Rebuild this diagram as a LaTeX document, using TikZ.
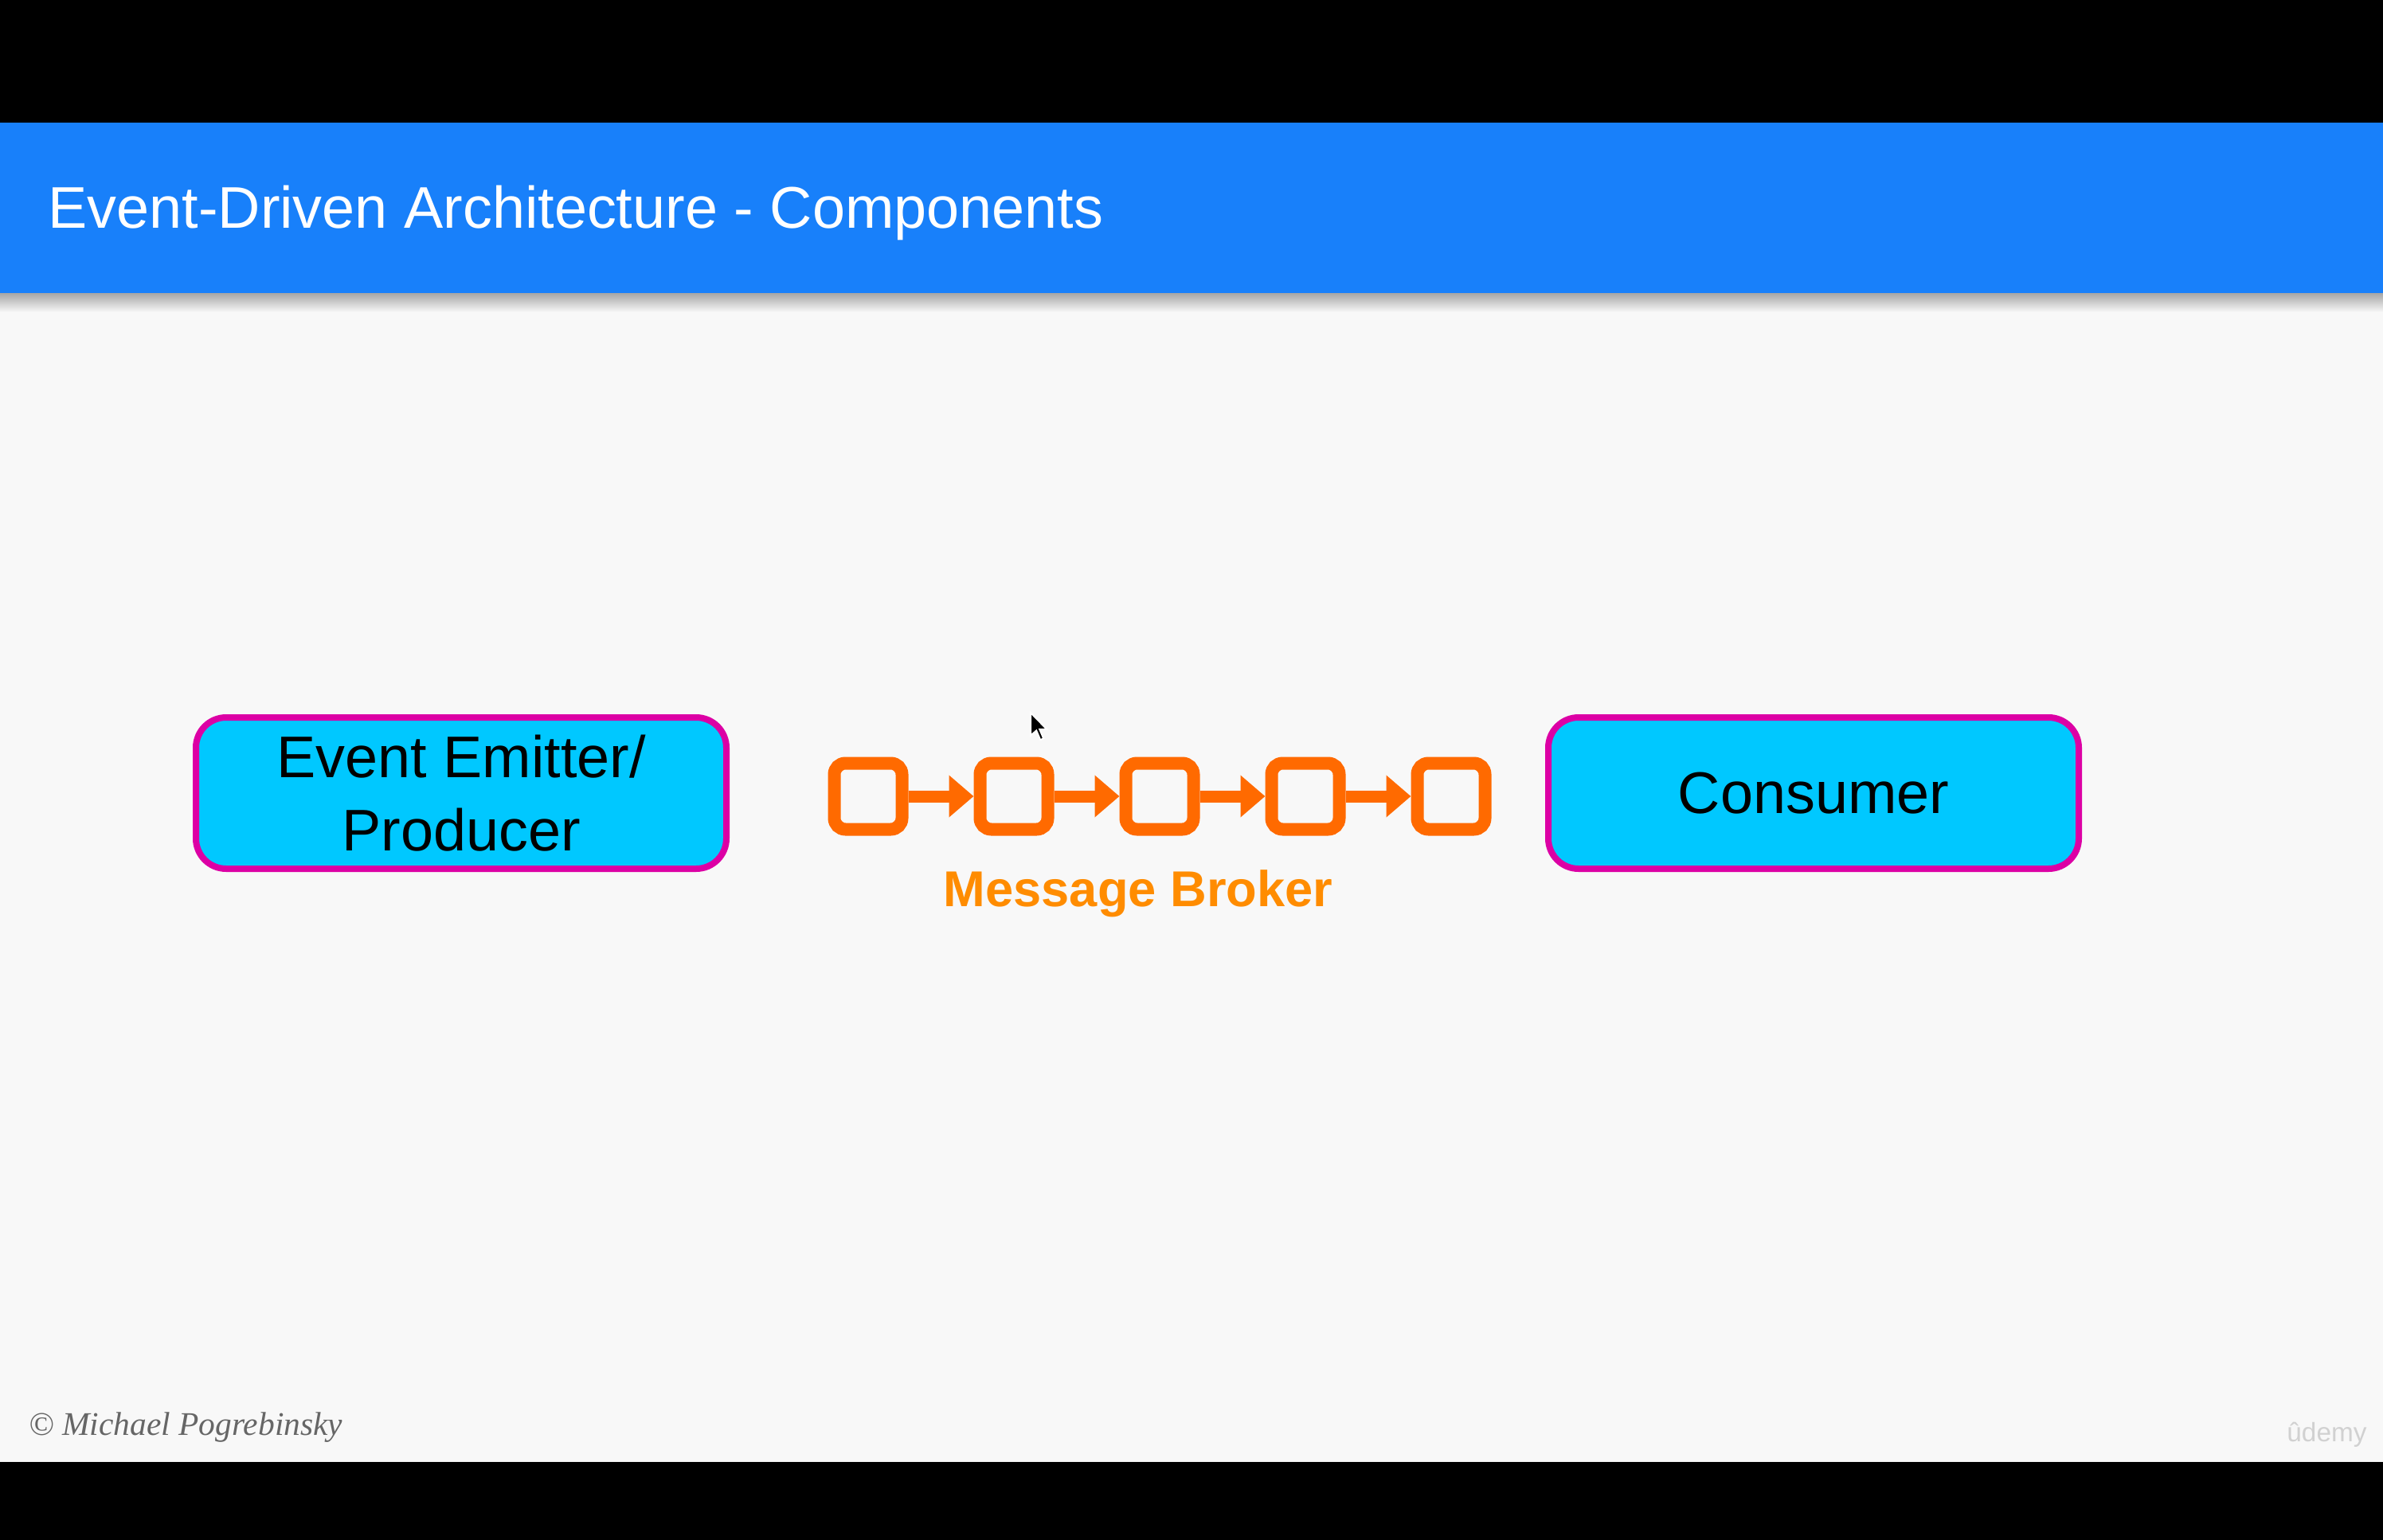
\documentclass[tikz,border=0pt]{standalone}
\usepackage{fontspec}
\usepackage{tikz}
\usetikzlibrary{arrows.meta}
\newfontfamily\arialfont{Liberation Sans}
\newfontfamily\timesfont{Liberation Serif}
\definecolor{titleblue}{RGB}{24,128,250}
\definecolor{boxcyan}{RGB}{0,200,255}
\definecolor{boxmagenta}{RGB}{220,0,165}
\definecolor{queueorange}{RGB}{255,106,0}
\definecolor{labelorange}{RGB}{255,140,0}
\definecolor{slidebg}{RGB}{248,248,248}

\begin{document}
\begin{tikzpicture}[
    component/.style={draw=boxmagenta, fill=boxcyan, line width=0.08cm, rounded corners=0.38cm,
        minimum width=6.66cm, minimum height=1.90cm, inner sep=0pt, align=center,
        font=\arialfont\fontsize{21}{26}\selectfont},
    slot/.style={draw=queueorange, fill=slidebg, line width=0.16cm, rounded corners=0.14cm,
        minimum width=0.85cm, minimum height=0.83cm, inner sep=0pt},
    hop/.style={draw=queueorange, line width=0.15cm, -{Triangle[length=0.31cm,width=0.51cm]}}
]
    \useasboundingbox (0,0) rectangle (29.92,-19.34);
    % screen frame
    \fill[black] (0,0) rectangle (29.92,-1.54);
    \fill[slidebg] (0,-1.54) rectangle (29.92,-18.36);
    \fill[black] (0,-18.36) rectangle (29.92,-19.34);
    \fill[titleblue] (0,-1.54) rectangle (29.92,-3.68);
    \shade[top color=black!35, bottom color=slidebg] (0,-3.68) rectangle (29.92,-3.92);
    \node[anchor=base west, text=white, font=\arialfont\fontsize{21}{25}\selectfont] (title) at (0.48,-2.86) {Event-Driven Architecture - Components};

    % components
    \node[component] (producer) at (5.79,-9.96) {Event Emitter/\\Producer};
    \node[component] (consumer) at (22.77,-9.96) {Consumer};

    % message broker queue
    \node[slot] (q1) at (10.90,-10.00) {};
    \node[slot] (q2) at (12.73,-10.00) {};
    \node[slot] (q3) at (14.56,-10.00) {};
    \node[slot] (q4) at (16.39,-10.00) {};
    \node[slot] (q5) at (18.22,-10.00) {};
    \draw[hop] (q1) -- (q2);
    \draw[hop] (q2) -- (q3);
    \draw[hop] (q3) -- (q4);
    \draw[hop] (q4) -- (q5);
    \node[anchor=base, text=labelorange, font=\arialfont\bfseries\fontsize{18}{22}\selectfont] (broker) at (14.29,-11.38) {Message Broker};

    % mouse pointer
    \filldraw[fill=black, draw=white, line width=0.02cm, shift={(12.94,-8.95)}, scale=0.018]
        (0,0) -- (0,-16) -- (4,-12.5) -- (6.8,-19) -- (9,-18) -- (6.3,-11.6) -- (11.3,-11.6) -- cycle;

    % footer
    \node[anchor=base west, text=black!60, font=\timesfont\itshape\fontsize{11.8}{14}\selectfont] (credit) at (0.24,-18.02) {\textcopyright\ Michael Pogrebinsky};
    \node[anchor=base east, text=black!18, font=\arialfont\fontsize{9.5}{11}\selectfont] (logo) at (29.84,-18.10) {ûdemy};
\end{tikzpicture}
\end{document}
